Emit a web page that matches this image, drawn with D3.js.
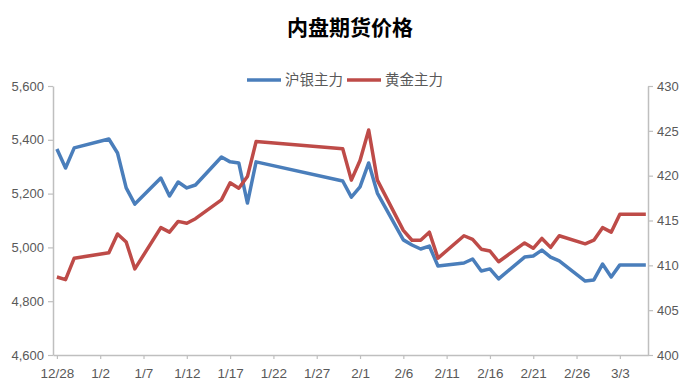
<!DOCTYPE html>
<html>
<head>
<meta charset="utf-8">
<script src="https://cdn.jsdelivr.net/npm/d3@7"></script>
<style>
  body { margin: 0; background: #fff; }
  svg { font-family: Lato, "Noto Sans CJK SC", sans-serif; }
</style>
</head>
<body>
<svg width="686" height="390"></svg>
<script>
// 交易日
const dates = [
  "2016-12-28", "2016-12-29", "2016-12-30",
  "2017-01-03", "2017-01-04", "2017-01-05", "2017-01-06",
  "2017-01-09", "2017-01-10", "2017-01-11", "2017-01-12", "2017-01-13",
  "2017-01-16", "2017-01-17", "2017-01-18", "2017-01-19", "2017-01-20",
  "2017-01-30", "2017-01-31", "2017-02-01", "2017-02-02", "2017-02-03",
  "2017-02-06", "2017-02-07", "2017-02-08", "2017-02-09", "2017-02-10",
  "2017-02-13", "2017-02-14", "2017-02-15", "2017-02-16", "2017-02-17",
  "2017-02-20", "2017-02-21", "2017-02-22", "2017-02-23", "2017-02-24",
  "2017-02-27", "2017-02-28", "2017-03-01", "2017-03-02", "2017-03-03",
  "2017-03-06"
];

// 沪银主力 (左轴)
const silver = [
  5366, 5295, 5370,
  5403, 5351, 5221, 5161,
  5258, 5191, 5243, 5221, 5232,
  5336, 5318, 5314, 5165, 5318,
  5247, 5187, 5225, 5314, 5202,
  5028, 5009, 4994, 5005, 4931,
  4942, 4957, 4912, 4920, 4883,
  4964, 4968, 4990, 4964, 4950,
  4875, 4879, 4938, 4890, 4935,
  4935
];

// 黄金主力 (右轴)
const gold = [
  408.7, 408.4, 410.8,
  411.4, 413.5, 412.6, 409.6,
  414.2, 413.7, 414.9, 414.7, 415.2,
  417.3, 419.2, 418.6, 419.9, 423.8,
  423.0, 419.5, 421.7, 425.1, 419.5,
  413.9, 412.8, 412.8, 413.7, 410.8,
  413.3, 412.9, 411.8, 411.6, 410.4,
  412.5, 411.9, 413.0, 412.0, 413.3,
  412.4, 412.8, 414.2, 413.7, 415.7,
  415.7
];

const tickDates = ["2016-12-28", "2017-01-02", "2017-01-07", "2017-01-12", "2017-01-17",
  "2017-01-22", "2017-01-27", "2017-02-01", "2017-02-06", "2017-02-11",
  "2017-02-16", "2017-02-21", "2017-02-26", "2017-03-03"];
const leftTicks = [4600, 4800, 5000, 5200, 5400, 5600];
const rightTicks = [400, 405, 410, 415, 420, 425, 430];

const series = [
  { name: "沪银主力", color: "#4a7ebb", values: silver, axis: "left" },
  { name: "黄金主力", color: "#be4b48", values: gold, axis: "right" }
];

const svg = d3.select("svg");
const parse = d3.timeParse("%Y-%m-%d");
const day = 864e5;

const m = { left: 53, right: 648, top: 86, bottom: 355 };

const x = d3.scaleTime()
  .domain([new Date(parse(dates[0]).getTime() - 0.45 * day),
           new Date(parse(dates[dates.length - 1]).getTime() + 0.25 * day)])
  .range([m.left, m.right]);
const yL = d3.scaleLinear().domain([4600, 5600]).range([m.bottom, m.top]);
const yR = d3.scaleLinear().domain([400, 430]).range([m.bottom, m.top]);

// 标题
svg.append("text")
  .attr("x", 350)
  .attr("y", 35)
  .attr("text-anchor", "middle")
  .attr("font-size", 21)
  .attr("font-weight", "bold")
  .attr("fill", "#000")
  .style("font-family", "'Noto Sans CJK SC'")
  .text("内盘期货价格");

// 轴
const styleAxis = (g) => {
  g.select(".domain").attr("stroke", "#bfbfbf").attr("stroke-width", 1.5);
  g.selectAll(".tick line").attr("stroke", "#bfbfbf").attr("stroke-width", 1.2);
  g.selectAll(".tick text").attr("fill", "#595959").attr("font-size", 13);
};

svg.append("g")
  .attr("transform", `translate(${m.left},0)`)
  .call(d3.axisLeft(yL).tickValues(leftTicks).tickFormat(d3.format(",")).tickSize(5).tickSizeOuter(0).tickPadding(4))
  .call(styleAxis);

svg.append("g")
  .attr("transform", `translate(${m.right},0)`)
  .call(d3.axisRight(yR).tickValues(rightTicks).tickSize(5).tickSizeOuter(0).tickPadding(4))
  .call(styleAxis);

svg.append("g")
  .attr("transform", `translate(0,${m.bottom})`)
  .call(d3.axisBottom(x).tickValues(tickDates.map(parse)).tickFormat(d3.timeFormat("%-m/%-d")).tickSize(4).tickSizeOuter(0).tickPadding(9))
  .call(styleAxis)
  .call((g) => g.selectAll(".tick text").attr("font-size", 13.5));

// 折线
series.forEach((s) => {
  const y = s.axis === "left" ? yL : yR;
  const line = d3.line()
    .x((d, i) => x(parse(dates[i])))
    .y((d) => y(d));
  svg.append("path")
    .datum(s.values)
    .attr("fill", "none")
    .attr("stroke", s.color)
    .attr("stroke-width", 3.5)
    .attr("stroke-linejoin", "round")
    .attr("d", line);
});

// 图例
const legend = svg.append("g").attr("transform", "translate(247,80)");
const legendX = [0, 100];
series.forEach((s, i) => {
  const g = legend.append("g").attr("transform", `translate(${legendX[i]},0)`);
  g.append("line").attr("x1", 0).attr("x2", 34).attr("y1", 0).attr("y2", 0)
    .attr("stroke", s.color).attr("stroke-width", 3.5);
  g.append("text").attr("x", 38).attr("y", 5)
    .attr("fill", "#595959").attr("font-size", 14.5)
    .style("font-family", "'Noto Sans CJK SC'")
    .text(s.name);
});
</script>
</body>
</html>
